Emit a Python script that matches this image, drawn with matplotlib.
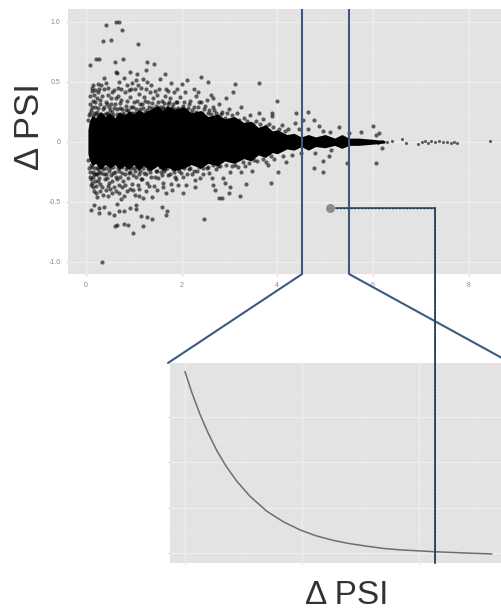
import matplotlib
matplotlib.use("Agg")
import matplotlib.pyplot as plt
from matplotlib.patches import ConnectionPatch

plt.rcParams['font.family'] = ['Liberation Sans', 'DejaVu Sans']

# Dense core of the scatter: envelope
core_x = [0.04, 0.07, 0.13, 0.2, 0.3, 0.4, 0.5, 0.6, 0.7, 0.8, 0.9, 1.0, 1.1, 1.2, 1.35, 1.5, 1.6, 1.7, 1.85, 2.05, 2.2, 2.4, 2.55, 2.75, 2.9, 3.1, 3.3, 3.45, 3.6, 3.75, 3.9, 4.0, 4.2, 4.35, 4.5, 4.65, 4.8, 5.0, 5.2, 5.35, 5.5, 5.7, 6.0, 6.25]
core_upper = [0.10, 0.17, 0.22, 0.20, 0.25, 0.21, 0.24, 0.20, 0.25, 0.22, 0.26, 0.23, 0.27, 0.24, 0.27, 0.30, 0.26, 0.30, 0.27, 0.29, 0.24, 0.26, 0.21, 0.23, 0.19, 0.21, 0.16, 0.17, 0.12, 0.14, 0.09, 0.10, 0.06, 0.07, 0.04, 0.06, 0.04, 0.06, 0.03, 0.06, 0.03, 0.03, 0.02, 0.01]
core_lower = [-0.10, -0.15, -0.20, -0.18, -0.23, -0.19, -0.22, -0.19, -0.23, -0.20, -0.23, -0.19, -0.24, -0.20, -0.24, -0.20, -0.24, -0.21, -0.24, -0.22, -0.19, -0.22, -0.18, -0.20, -0.16, -0.18, -0.14, -0.16, -0.11, -0.13, -0.09, -0.10, -0.06, -0.07, -0.04, -0.07, -0.04, -0.05, -0.03, -0.055, -0.03, -0.03, -0.02, -0.01]

# Individually readable points
sparse_upper = [
    (.41,.97),(.63,1.0),(.70,1.0),(.76,.93),(.36,.84),(.53,.85),(1.09,.81),(.08,.64),(.20,.69),(.27,.69),
    (.60,.66),(.78,.69),(.62,.58),(.64,.57),(.91,.58),(1.07,.56),(1.04,.51),(1.28,.66),(1.42,.65),(1.26,.60),
    (1.65,.56),(1.55,.52),(1.28,.50),(1.25,.44),(.38,.53),(1.78,.49),(2.12,.51),(2.01,.48),(.24,.48),(.13,.45),
    (.27,.44),(.69,.50),(.86,.47),(.73,.44),(1.53,.44),(1.67,.44),(2.41,.54),(2.56,.50),(3.12,.48),(3.08,.41),
    (3.62,.49),(3.99,.34),(2.25,.44),(2.61,.39),(2.65,.36),(2.93,.36),(3.24,.29),(3.62,.24),(3.90,.24),(3.90,.21),
    (4.39,.24),(4.65,.25),(4.37,.155),(4.54,.18),(4.77,.18),(4.87,.13),(4.65,.11),(5.29,.12),(6.0,.127),(6.13,.07),
    (6.07,.06),(5.75,.08),(4.95,.09),(5.1,.08),(5.5,.07),(4.45,.11),
]
sparse_lower = [
    (.34,-1.0),(.98,-.76),(.60,-.70),(.64,-.69),(.79,-.68),(.88,-.69),(1.20,-.70),(1.14,-.62),(1.28,-.63),(1.39,-.64),
    (.10,-.57),(.17,-.53),(.27,-.55),(.27,-.59),(.38,-.54),(.48,-.59),(.59,-.61),(.69,-.58),(.79,-.58),(.93,-.55),
    (1.04,-.53),(1.04,-.56),(.65,-.52),(.73,-.48),(.79,-.45),(.86,-.41),(.93,-.39),(1.58,-.54),(1.69,-.58),(1.67,-.61),
    (1.11,-.45),(1.19,-.47),(1.39,-.46),(1.26,-.41),(1.68,-.43),(2.03,-.43),(.10,-.36),(.24,-.33),(.34,-.38),(.45,-.45),
    (.17,-.27),(.27,-.30),(.59,-.38),(.48,-.34),(4.76,-.22),(4.95,-.25),(4.95,-.16),(5.08,-.12),(4.78,-.09),(5.46,-.18),
    (6.07,-.18),(3.87,-.34),(4.02,-.25),(4.18,-.17),(3.77,-.17),(5.12,-.07),(6.2,-.05),(2.47,-.64),(2.78,-.47),(2.85,-.47),
    (3.22,-.45),(2.98,-.43),(2.70,-.40),(2.65,-.36),(2.63,-.30),(2.45,-.27),(2.28,-.38),(2.28,-.32),(2.87,-.30),(2.91,-.34),
    (3.01,-.38),(3.35,-.35),(3.01,-.25),(3.24,-.25),(3.47,-.24),(3.81,-.19),(3.12,-.19),(3.33,-.20),(4.3,-.11),(4.5,-.09),
]
# Scattered zone around the core (estimated)
fringe_upper = [
    (.07,.22),(.08,.31),(.09,.38),(.11,.26),(.12,.42),(.14,.34),(.16,.24),(.17,.39),(.19,.29),(.22,.36),
    (.23,.25),(.26,.41),(.29,.31),(.31,.23),(.33,.38),(.35,.27),(.37,.44),(.41,.33),(.43,.24),(.46,.39),
    (.49,.29),(.52,.36),(.54,.25),(.58,.43),(.61,.31),(.64,.23),(.67,.38),(.71,.28),(.74,.35),(.77,.24),
    (.81,.41),(.84,.30),(.88,.26),(.92,.37),(.95,.44),(.99,.29),(1.02,.24),(1.06,.34),(1.10,.40),(1.13,.27),
    (1.17,.31),(1.21,.37),(1.24,.25),(1.30,.33),(1.33,.41),(1.37,.28),(1.41,.36),(1.46,.30),(1.49,.39),(1.52,.27),
    (1.58,.34),(1.62,.29),(1.66,.38),(1.71,.31),(1.75,.36),(1.80,.29),(1.84,.41),(1.88,.33),(1.93,.28),(1.97,.37),
    (2.03,.30),(2.08,.41),(2.13,.28),(2.18,.34),(2.22,.26),(2.29,.38),(2.34,.29),(2.40,.33),(2.46,.27),(2.52,.35),
    (2.58,.26),(2.66,.29),(2.72,.24),(2.79,.31),(2.85,.25),(2.98,.27),(3.05,.22),(3.15,.24),(3.30,.20),(3.42,.22),
    (3.55,.17),(3.70,.19),(3.82,.15),(4.10,.14),(4.22,.11),(.05,.18),(.10,.15),
    (.09,.24),(.13,.29),(.15,.21),(.18,.33),(.21,.23),(.24,.28),(.27,.22),(.30,.35),(.34,.22),(.38,.29),
    (.40,.23),(.44,.31),(.47,.23),(.50,.26),(.53,.31),(.56,.22),(.59,.28),(.62,.36),(.65,.27),(.69,.22),
    (.72,.32),(.75,.27),(.79,.22),(.83,.26),(.86,.34),(.90,.23),(.94,.29),(.97,.24),(1.01,.33),(1.04,.27),
    (1.08,.23),(1.12,.31),(1.15,.24),(1.19,.28),(1.23,.34),(1.27,.26),(1.32,.29),(1.35,.25),(1.39,.32),(1.43,.27),
    (1.48,.26),(1.51,.33),(1.55,.29),(1.60,.27),(1.64,.32),(1.69,.28),(1.73,.33),(1.77,.27),(1.82,.31),(1.86,.27),
    (1.91,.33),(1.95,.26),(2.00,.28),(2.05,.33),(2.10,.26),(2.15,.31),(2.20,.24),(2.25,.29),(2.31,.25),(2.36,.33),
    (2.42,.24),(2.48,.30),(2.55,.24),(2.62,.23),(2.68,.26),(2.75,.21),(2.82,.23),(2.90,.20),(2.95,.24),(3.10,.19),
    (3.20,.18),(3.36,.17),(3.50,.15),(3.64,.15),(3.76,.13),(3.92,.12),(4.04,.11),(4.16,.09),
    (.15,.47),(.19,.43),(.32,.47),(.42,.49),(.47,.45),(.55,.41),(.66,.45),(.80,.53),(.89,.43),(.97,.49),
    (1.03,.44),(1.15,.45),(1.20,.52),(1.35,.47),(1.45,.42),(1.72,.42),(1.90,.44),(1.08,.47),(2.35,.41),
]
fringe_lower = [
    (.05,-.15),(.07,-.22),(.08,-.29),(.10,-.19),(.12,-.34),(.14,-.25),(.16,-.41),(.19,-.22),(.21,-.37),(.23,-.27),
    (.26,-.21),(.29,-.35),(.31,-.26),(.36,-.23),(.39,-.31),(.42,-.27),(.45,-.37),(.51,-.22),(.54,-.33),(.57,-.26),
    (.62,-.29),(.66,-.22),(.70,-.36),(.75,-.26),(.78,-.33),(.83,-.23),(.88,-.30),(.92,-.25),(.96,-.35),(1.0,-.22),
    (1.05,-.29),(1.09,-.36),(1.13,-.24),(1.17,-.31),(1.22,-.26),(1.27,-.34),(1.31,-.22),(1.36,-.29),(1.42,-.37),(1.46,-.24),
    (1.51,-.30),(1.56,-.25),(1.61,-.34),(1.66,-.23),(1.72,-.28),(1.78,-.35),(1.83,-.25),(1.89,-.31),(1.95,-.24),(2.02,-.29),
    (2.09,-.36),(2.15,-.23),(2.21,-.27),(2.33,-.24),(2.39,-.30),(2.52,-.22),(2.58,-.26),(2.71,-.23),(2.80,-.20),(3.18,-.21),
    (3.41,-.18),(3.58,-.16),(3.94,-.14),(4.12,-.12),
    (.09,-.25),(.11,-.31),(.13,-.21),(.15,-.29),(.18,-.33),(.20,-.27),(.24,-.23),(.28,-.25),(.33,-.21),(.37,-.27),
    (.41,-.22),(.44,-.30),(.48,-.24),(.52,-.28),(.56,-.21),(.60,-.25),(.64,-.31),(.68,-.24),(.72,-.29),(.76,-.21),
    (.81,-.27),(.85,-.21),(.90,-.26),(.95,-.22),(.99,-.28),(1.03,-.24),(1.07,-.21),(1.11,-.27),(1.15,-.31),(1.20,-.22),
    (1.25,-.27),(1.29,-.23),(1.34,-.25),(1.39,-.21),(1.44,-.29),(1.49,-.24),(1.54,-.21),(1.59,-.28),(1.64,-.24),(1.70,-.22),
    (1.75,-.27),(1.81,-.23),(1.86,-.29),(1.92,-.22),(1.98,-.26),(2.05,-.22),(2.12,-.27),(2.18,-.22),(2.26,-.24),(2.36,-.21),
    (2.45,-.22),(2.55,-.21),(2.66,-.19),(2.76,-.20),(2.92,-.19),(3.06,-.20),(3.28,-.17),(3.52,-.15),(3.70,-.14),(3.86,-.12),
    (.14,-.38),(.20,-.43),(.22,-.46),(.30,-.41),(.36,-.44),(.41,-.40),(.50,-.39),(.55,-.43),(.62,-.41),(.70,-.43),
    (.75,-.38),(.82,-.36),(.98,-.40),(1.02,-.44),(1.10,-.39),(1.32,-.37),(1.48,-.40),(1.60,-.38),(1.80,-.40),(1.93,-.36),
]
# Isolated points along the tail
tail_x = [6.0, 6.1, 6.2, 6.3, 6.4, 6.6, 6.7, 6.95, 7.02, 7.08, 7.15, 7.22, 7.3, 7.38, 7.46, 7.55, 7.63, 7.7, 7.76, 8.44]
tail_y = [0.01, -0.01, 0.01, 0.0, 0.01, 0.02, -0.01, -0.02, 0.0, 0.01, -0.01, 0.01, 0.0, 0.01, 0.0, 0.0, -0.01, 0.0, -0.01, 0.01]

highlight_x = [5.1]
highlight_y = [-0.55]
zoom_window = [4.52, 5.50]
guide_start = 5.22
guide_x = 7.30

curve_x = [0, .06, .128, .197, .274, .35, .444, .556, .70, .84, .983, 1.12, 1.265, 1.4, 1.556, 1.7, 1.838, 2.12, 2.4, 2.62]
curve_y = [4.0, 3.53, 3.06, 2.65, 2.25, 1.92, 1.58, 1.25, .92, .69, .51, .38, .28, .21, .15, .10, .07, .03, 0.0, -.02]

top_xticks = [0, 2, 4, 6, 8]
top_yticks = [-1.0, -0.5, 0, 0.5, 1.0]
top_ylabels = ['-1.0', '-0.5', '0', '0.5', '1.0']

W, H = 502, 612
PANEL = '#e3e3e3'
BLUE = '#3c5a80'
DARK = '#24364f'

def box(l, t, r, b):
    return [l / W, 1 - b / H, (r - l) / W, (b - t) / H]

fig = plt.figure(figsize=(W / 100, H / 100), dpi=100)
ax = fig.add_axes(box(68, 9, 502, 274))
ax2 = fig.add_axes(box(170, 363, 502, 563))

for a in (ax, ax2):
    a.set_facecolor(PANEL)
    for s in a.spines.values():
        s.set_visible(False)
    a.set_axisbelow(True)
    a.grid(True, which='major', color='#eeeeee', lw=1.0)
    a.grid(True, which='minor', color='#e7e7e7', lw=0.6)
    a.tick_params(which='minor', length=0)

# Top panel
ax.set_xlim(-0.377, 8.70)
ax.set_ylim(-1.10, 1.104)
ax.set_xticks(top_xticks)
ax.set_yticks(top_yticks, top_ylabels)
ax.set_xticks([1, 3, 5, 7], minor=True)
ax.set_yticks([-.75, -.25, .25, .75], minor=True)
ax.tick_params(which='major', labelsize=5, labelcolor='#8a8a8a', color='#b8b8b8', length=1.5, width=0.5, pad=4)

ax.fill_between(core_x, core_lower, core_upper, color='black', lw=0, zorder=2)
points = sparse_upper + sparse_lower + fringe_upper + fringe_lower
ax.scatter([p[0] for p in points], [p[1] for p in points], s=9, c='black', alpha=0.6, linewidths=0, zorder=3)
ax.scatter(tail_x, tail_y, s=5, c='black', alpha=0.6, linewidths=0, zorder=3)
ax.scatter(highlight_x, highlight_y, s=42, c='#8c8c8c', linewidths=0, zorder=5)

# Bottom panel
ax2.set_xlim(-0.128, 2.709)
ax2.set_ylim(-0.22, 4.19)
ax2.set_xticks([0, 1, 2], ['', '', ''])
ax2.set_yticks([0, 1, 2, 3], ['', '', '', ''])
ax2.set_xticks([.5, 1.5, 2.5], minor=True)
ax2.set_yticks([.5, 1.5, 2.5, 3.5], minor=True)
ax2.tick_params(which='major', color='#c4c4c4', length=1.5, width=0.5)
ax2.plot(curve_x, curve_y, color='#6e6e6e', lw=1.1, zorder=3)

# Zoom window guides
ymax = ax.get_ylim()[1]
ymin = ax.get_ylim()[0]
for x in zoom_window:
    ax.plot([x, x], [ymin, ymax], color=BLUE, lw=1.5, zorder=6, solid_capstyle='butt')

def connect(xyA, xyB, coordsB, **kw):
    con = ConnectionPatch(xyA=xyA, xyB=xyB, coordsA='data', coordsB=coordsB,
                          axesA=ax, axesB=ax2, zorder=8, **kw)
    fig.add_artist(con)

connect((zoom_window[0], ymin), (-0.006, 1.0), 'axes fraction', color=BLUE, lw=1.5)
connect((zoom_window[1], ymin), (1.0, 1.025), 'axes fraction', color=BLUE, lw=1.5)

# Guide from highlighted point to the curve
gy = highlight_y[0]
for col, ls, lw in ((BLUE, '-', 1.3), (DARK, (0, (1.5, 1)), 1.0)):
    ax.plot([guide_start, guide_x], [gy, gy], color=col, ls=ls, lw=lw, zorder=6)
    connect((guide_x, gy), (2.137, ax2.get_ylim()[0]), 'data', color=col, ls=ls, lw=lw)

fig.text(30 / W, 1 - 127 / H, 'Δ PSI', rotation=90, ha='center', va='center', fontsize=25, color='#333333')
fig.text(347 / W, 1 - 595 / H, 'Δ PSI', ha='center', va='center', fontsize=24, color='#333333')

fig.savefig('out.png', dpi=100)
